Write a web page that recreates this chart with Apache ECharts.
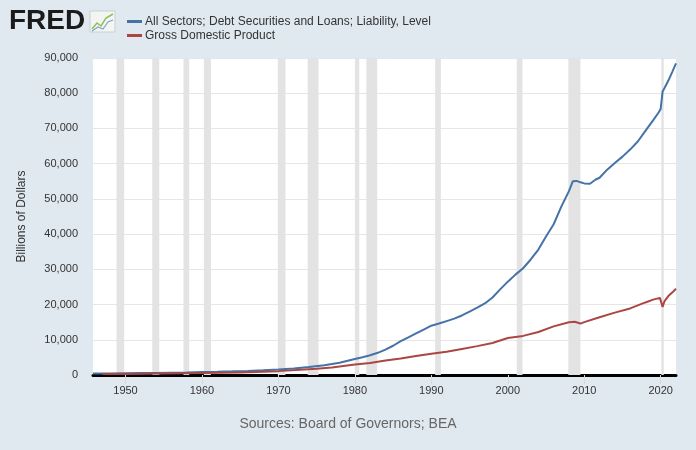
<!DOCTYPE html>
<html>
<head>
    <meta charset="utf-8">
    <title>FRED</title>
    <script src="https://cdn.jsdelivr.net/npm/echarts@6/dist/echarts.min.js"></script>
    <style>
        html, body { margin: 0; padding: 0; background: #e1e9f0; }
        #chart { width: 696px; height: 450px; }
    </style>
</head>
<body>
<div id="chart"></div>
<script>
    // 债务（蓝线）
    var debtYears = [1945.75, 1946, 1948, 1950, 1952, 1954, 1956, 1958, 1960, 1962, 1964, 1966, 1968, 1970, 1972, 1974, 1976, 1978,
        1980, 1981, 1982, 1983, 1984, 1985, 1986, 1987, 1988, 1989, 1990, 1991, 1992, 1993, 1994, 1995, 1996, 1997, 1998, 1999,
        2000, 2001, 2002, 2003, 2004, 2005, 2006, 2007, 2008, 2008.5, 2009, 2009.5, 2010, 2010.75, 2011.5, 2012, 2013, 2014,
        2015, 2016, 2017, 2018, 2019, 2019.75, 2020, 2020.25, 2020.5, 2021, 2021.5, 2022];
    var debtValues = [420, 400, 420, 480, 540, 600, 670, 730, 820, 920, 1040, 1170, 1330, 1550, 1850, 2250, 2750, 3500,
        4550, 5050, 5600, 6300, 7200, 8300, 9600, 10700, 11800, 12900, 14000, 14600, 15300, 16000, 16900, 18000, 19100, 20300, 22000, 24300,
        26500, 28500, 30300, 32800, 35600, 39300, 42800, 47800, 52200, 55000, 55100, 54700, 54400, 54300, 55500, 56000, 58300, 60200,
        62000, 64000, 66300, 69300, 72300, 74600, 75600, 80500, 81500, 83600, 86000, 88500];

    // GDP（红线）
    var gdpYears = [1947, 1950, 1955, 1960, 1965, 1970, 1975, 1977, 1980, 1982, 1984, 1986, 1988, 1990, 1992, 1994, 1996, 1998,
        2000, 2002, 2004, 2006, 2008, 2008.75, 2009.5, 2010, 2012, 2014, 2016, 2018, 2019, 2019.9, 2020.25, 2020.5, 2021, 2021.5, 2022];
    var gdpValues = [250, 300, 430, 550, 740, 1100, 1750, 2150, 3000, 3400, 4100, 4700, 5400, 6050, 6600, 7400, 8200, 9100,
        10500, 11100, 12200, 13800, 15000, 15100, 14600, 15000, 16400, 17700, 18900, 20600, 21400, 21900, 19300, 21000, 22400, 23400, 24500];

    // 衰退期
    var recessions = [[1948.83, 1949.83], [1953.5, 1954.42], [1957.58, 1958.33], [1960.25, 1961.17], [1969.92, 1970.92],
        [1973.83, 1975.25], [1980.0, 1980.58], [1981.5, 1982.92], [1990.5, 1991.25], [2001.17, 2001.92],
        [2007.92, 2009.5], [2020.08, 2020.4]];

    var xLabels = [1950, 1960, 1970, 1980, 1990, 2000, 2010, 2020];

    var seriesNames = ['All Sectors; Debt Securities and Loans; Liability, Level', 'Gross Domestic Product'];

    function pairs(xs, ys) {
        return xs.map(function (x, i) { return [x, ys[i]]; });
    }

    var chart = echarts.init(document.getElementById('chart'));
    var option = {
        backgroundColor: '#e1e9f0',
        textStyle: { fontFamily: 'Liberation Sans, Arial, sans-serif' },
        animation: false,
        graphic: [
            {
                type: 'text', left: 9, top: 7,
                style: { text: 'FRED', font: 'bold 28px "Liberation Sans", Arial', fill: '#1b1b1b' }
            },
            {
                type: 'rect', shape: { x: 90, y: 11, width: 25, height: 21 },
                style: { fill: '#f3f5f2', stroke: '#c9cfd3', lineWidth: 1 }
            },
            {
                type: 'polyline', shape: { points: [[92, 29], [97, 23], [101, 26], [106, 18], [113, 14]] },
                style: { stroke: '#8fbf5a', lineWidth: 1.5, fill: null }
            },
            {
                type: 'polyline', shape: { points: [[92, 31], [98, 27], [103, 29], [108, 22], [113, 20]] },
                style: { stroke: '#7fa6c8', lineWidth: 1.2, fill: null }
            },
            {
                type: 'text', left: 'center', top: 417,
                style: { text: 'Sources: Board of Governors; BEA', font: '14px "Liberation Sans", Arial', fill: '#666' }
            }
        ],
        legend: {
            orient: 'vertical',
            left: 122,
            top: 10,
            itemGap: 1,
            itemWidth: 15,
            itemHeight: 3,
            icon: 'rect',
            textStyle: { fontSize: 12, color: '#333', lineHeight: 13, padding: [0, 0, 0, -2] },
            data: seriesNames
        },
        grid: {
            left: 93,
            right: 20,
            top: 58,
            bottom: 75,
            show: true,
            backgroundColor: '#ffffff',
            borderWidth: 0
        },
        xAxis: {
            type: 'value',
            min: 1945.75,
            max: 2022,
            axisLine: { show: true, onZero: false, lineStyle: { color: '#000', width: 3 } },
            axisTick: { show: true, customValues: xLabels, length: 9, lineStyle: { color: '#d8d8d8' } },
            axisLabel: {
                customValues: xLabels, color: '#333', fontSize: 11, margin: 10,
                formatter: function (v) { return String(v); }
            },
            splitLine: { show: false }
        },
        yAxis: {
            type: 'value',
            min: 0,
            max: 90000,
            interval: 10000,
            name: 'Billions of Dollars',
            nameLocation: 'middle',
            nameGap: 65,
            nameTextStyle: { color: '#333', fontSize: 12 },
            axisLine: { show: false },
            axisTick: { show: false },
            axisLabel: {
                color: '#333', fontSize: 11, margin: 15,
                formatter: function (v) { return v.toLocaleString('en-US'); }
            },
            splitLine: { lineStyle: { color: '#e6e6e6', width: 1 } }
        },
        series: [
            {
                name: 'recessions',
                type: 'line',
                data: [],
                z: 1,
                silent: true,
                markArea: {
                    silent: true,
                    itemStyle: { color: '#e3e3e3' },
                    data: recessions.map(function (r) { return [{ xAxis: r[0] }, { xAxis: r[1] }]; })
                }
            },
            {
                name: seriesNames[0],
                type: 'line',
                data: pairs(debtYears, debtValues),
                showSymbol: false,
                z: 3,
                lineStyle: { color: '#4572a7', width: 2 },
                itemStyle: { color: '#4572a7' }
            },
            {
                name: seriesNames[1],
                type: 'line',
                data: pairs(gdpYears, gdpValues),
                showSymbol: false,
                z: 4,
                lineStyle: { color: '#aa4643', width: 2 },
                itemStyle: { color: '#aa4643' }
            }
        ]
    };
    chart.setOption(option);
</script>
</body>
</html>
